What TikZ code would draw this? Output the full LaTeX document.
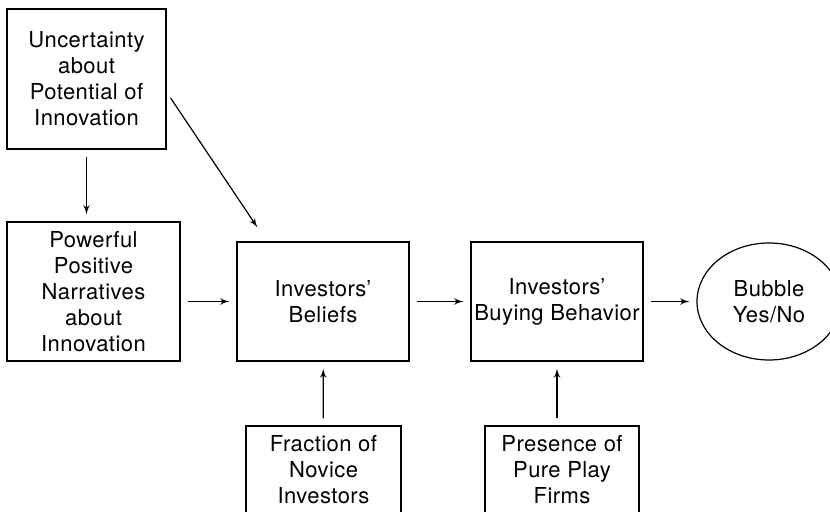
\documentclass[tikz,border=0pt]{standalone}
\usepackage{fontspec}
\setmainfont[LetterSpace=2]{TeX Gyre Heros}
\usetikzlibrary{shapes.geometric, positioning, arrows}

\begin{document}
\begin{tikzpicture}[
        x=0.5pt, y=-0.5pt,
        line width=0.6pt,
        font=\fontsize{11}{13}\selectfont,
        block/.style={rectangle, draw, align=center, inner sep=1pt},
        line/.style={draw, -latex', shorten >=3.5pt, shorten <=3.5pt}
    ]
        \clip (0,0) rectangle (830,512);
        % Nodes
        \node [block, minimum width=79.5pt, minimum height=70pt] (unc) at (86.5,79) {Uncertainty\\about\\Potential of\\Innovation};
        \node [block, minimum width=86.5pt, minimum height=69.5pt] (pow) at (93.5,291.5) {Powerful\\Positive\\Narratives\\about\\Innovation};
        \node [block, minimum width=86pt, minimum height=59.5pt] (bel) at (323,301.5) {Investors’\\Beliefs};
        \node [block, minimum width=86pt, minimum height=59.5pt] (buy) at (557,301.5) {Investors’\\Buying Behavior};
        \node [ellipse, draw, align=center, inner sep=0pt, minimum width=72pt, minimum height=58.5pt] (bub) at (769,301.5) {Bubble\\Yes/No};
        \node [block, minimum width=77.5pt, minimum height=44pt] (nov) at (323.5,470) {Fraction of\\Novice\\Investors};
        \node [block, minimum width=77pt, minimum height=44pt] (pre) at (562,470) {Presence of\\Pure Play\\Firms};

        % Edges
        \path [line] (unc) -- (pow.north -| unc);
        \path [line, shorten >=0pt, shorten <=0pt] ([xshift=2pt, yshift=-9.5pt]unc.east) -- ([xshift=10.5pt, yshift=7pt]bel.north west);
        \path [line] (pow.east |- bel.west) -- (bel.west);
        \path [line] (bel) -- (buy);
        \path [line] (buy) -- (bub);
        \path [line] (nov) -- (bel);
        \path [line] (pre.north -| buy.south) -- (buy.south);
    \end{tikzpicture}
\end{document}
